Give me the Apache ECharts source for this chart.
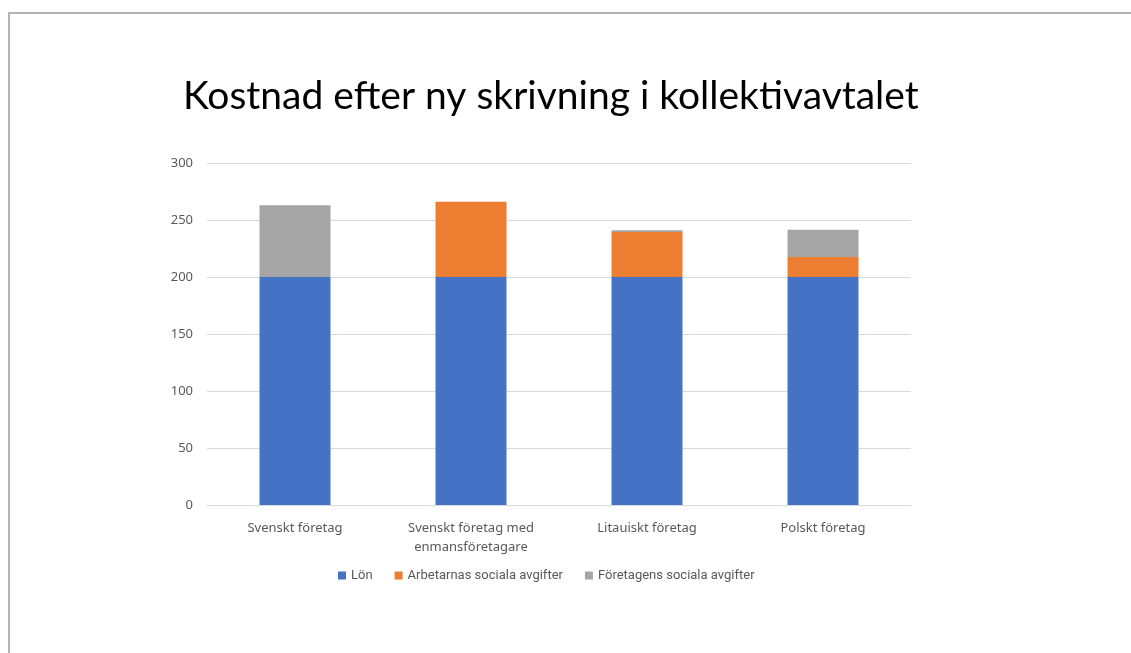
<!DOCTYPE html>
<html>
<head>
<meta charset="utf-8">
<script src="https://cdn.jsdelivr.net/npm/echarts@6/dist/echarts.min.js"></script>
<style>
  html, body { margin: 0; padding: 0; background: #fff; }
  #main { width: 1131px; height: 653px; }
</style>
</head>
<body>
<div id="main"></div>
<script>
// data
var categories = ['Svenskt företag', 'Svenskt företag med\nenmansföretagare', 'Litauiskt företag', 'Polskt företag'];
var lon = [200, 200, 200, 200];
var arbetarnas = [0, 66, 39.5, 17.5];
var foretagens = [63, 0, 1.5, 24];
var seriesNames = ['Lön', 'Arbetarnas sociala avgifter', 'Företagens sociala avgifter'];

var myChart = echarts.init(document.getElementById('main'));

var option = {
    animation: false,
    color: ['#4472C4', '#ED7D31', '#A5A5A5'],
    title: {
        text: 'Kostnad efter ny skrivning i kollektivavtalet',
        left: 178,
        top: 72,
        textStyle: {
            fontFamily: 'Lato',
            fontSize: 39,
            fontWeight: 'normal',
            color: '#000'
        }
    },
    graphic: [
        {
            type: 'polyline',
            shape: { points: [[9, 653], [9, 13], [1131, 13]] },
            style: { stroke: '#b4b4b4', lineWidth: 2, fill: null }
        }
    ],
    legend: {
        data: seriesNames,
        top: 564,
        left: 333,
        itemWidth: 8,
        itemHeight: 8,
        itemGap: 22,
        icon: 'rect',
        textStyle: { fontSize: 13, color: '#595959', fontFamily: 'Roboto' }
    },
    grid: {
        left: 207,
        right: 220,
        top: 163,
        bottom: 148
    },
    xAxis: {
        type: 'category',
        data: categories,
        axisTick: { show: false },
        axisLine: { lineStyle: { color: '#d9d9d9' } },
        axisLabel: {
            color: '#595959',
            fontSize: 13,
            margin: 14,
            lineHeight: 19,
            fontFamily: 'Noto Sans'
        }
    },
    yAxis: {
        type: 'value',
        min: 0,
        max: 300,
        interval: 50,
        axisLine: { show: false },
        axisTick: { show: false },
        axisLabel: { color: '#595959', fontSize: 13, margin: 14, fontFamily: 'Noto Sans' },
        splitLine: { lineStyle: { color: '#d9d9d9' } }
    },
    series: [
        { name: seriesNames[0], type: 'bar', stack: 'total', barWidth: 71, data: lon },
        { name: seriesNames[1], type: 'bar', stack: 'total', data: arbetarnas },
        { name: seriesNames[2], type: 'bar', stack: 'total', data: foretagens }
    ]
};

myChart.setOption(option);
</script>
</body>
</html>
